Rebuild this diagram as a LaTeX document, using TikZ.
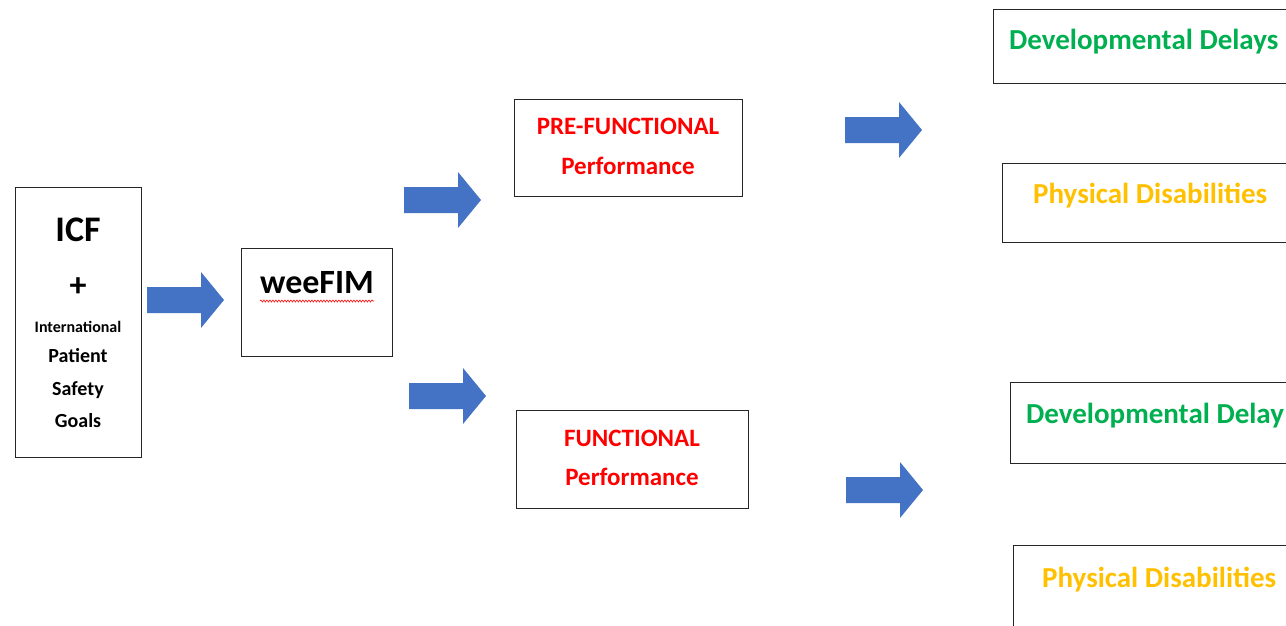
\documentclass[tikz,border=0pt]{standalone}
\usepackage{fontspec}
\setmainfont{Carlito}
\usetikzlibrary{calc,positioning,decorations.pathmorphing}
\definecolor{arrowblue}{HTML}{4472C4}
\definecolor{devgreen}{HTML}{00B050}
\definecolor{physyellow}{HTML}{FFC000}
\tikzset{
  box/.style={draw=black!85,line width=1.4,inner sep=0,anchor=north west},
  lbl/.style={font=\bfseries\fontsize{#1}{#1}\selectfont,inner sep=0,anchor=base},
  lbl/.default=29,
  pics/blockarrow/.style={code={
    \fill[arrowblue] (0,-13) -- (54,-13) -- (54,-28) -- (77,0)
                     -- (54,28) -- (54,13) -- (0,13) -- cycle;}}}

\begin{document}
\begin{tikzpicture}[x=1pt,y=-1pt]
  \useasboundingbox (0,0) rectangle (1286,626);
  \clip (0,0) rectangle (1286,626);
  \fill[white] (0,0) rectangle (1286,626);

  % BOXES
  \node[box,minimum width=126,minimum height=270] (icf) at (15,187) {};
  \node[box,minimum width=151,minimum height=108] (wee) at (241,248) {};
  \node[box,minimum width=228,minimum height=97]  (pre) at (514,99) {};
  \node[box,minimum width=232,minimum height=98]  (fun) at (516,410) {};
  \node[box,minimum width=310,minimum height=74]  (dd1) at (993,9) {};
  \node[box,minimum width=300,minimum height=79]  (pd1) at (1002,163) {};
  \node[box,minimum width=300,minimum height=81]  (dd2) at (1010,382) {};
  \node[box,minimum width=300,minimum height=100] (pd2) at (1013,545) {};

  % TEXTS
  \node[lbl=36] (icft) at (78,241) {ICF};
  \node[lbl=34] (plus) at (78,296) {+};
  \node[lbl=16] (intl) at (78,332) {International};
  \node[lbl=20] (pat)  at (78,362) {Patient};
  \node[lbl=20] (saf)  at (78,395) {Safety};
  \node[lbl=20] (goal) at (78,427) {Goals};
  \node[lbl=34] (weet) at (317,293) {weeFIM};
  \draw[red,line width=0.6,decorate,decoration={snake,amplitude=1,segment length=3}]
    ($(weet.base west)+(0,8)$) -- ($(weet.base east)+(0,8)$); % spell check
  \node[lbl=25,red] (pret)  at (628,135) {PRE-FUNCTIONAL};
  \node[lbl=25,red] (prep)  at (628,174) {Performance};
  \node[lbl=25,red] (funt)  at (632,446) {FUNCTIONAL};
  \node[lbl=25,red] (funp)  at (632,485) {Performance};
  \node[lbl,devgreen,anchor=base west]   (dd1t) at (1009,50)  {Developmental Delays};
  \node[lbl,physyellow,anchor=base west] (pd1t) at (1033,203) {Physical Disabilities};
  \node[lbl,devgreen,anchor=base west]   (dd2t) at (1026,423) {Developmental Delay};
  \node[lbl,physyellow,anchor=base west] (pd2t) at (1042,587) {Physical Disabilities};

  % ARROWS
  \pic at (147,300) {blockarrow};
  \pic at (404,200) {blockarrow};
  \pic at (409,396) {blockarrow};
  \pic at (845,130) {blockarrow};
  \pic at (846,490) {blockarrow};
\end{tikzpicture}
\end{document}
